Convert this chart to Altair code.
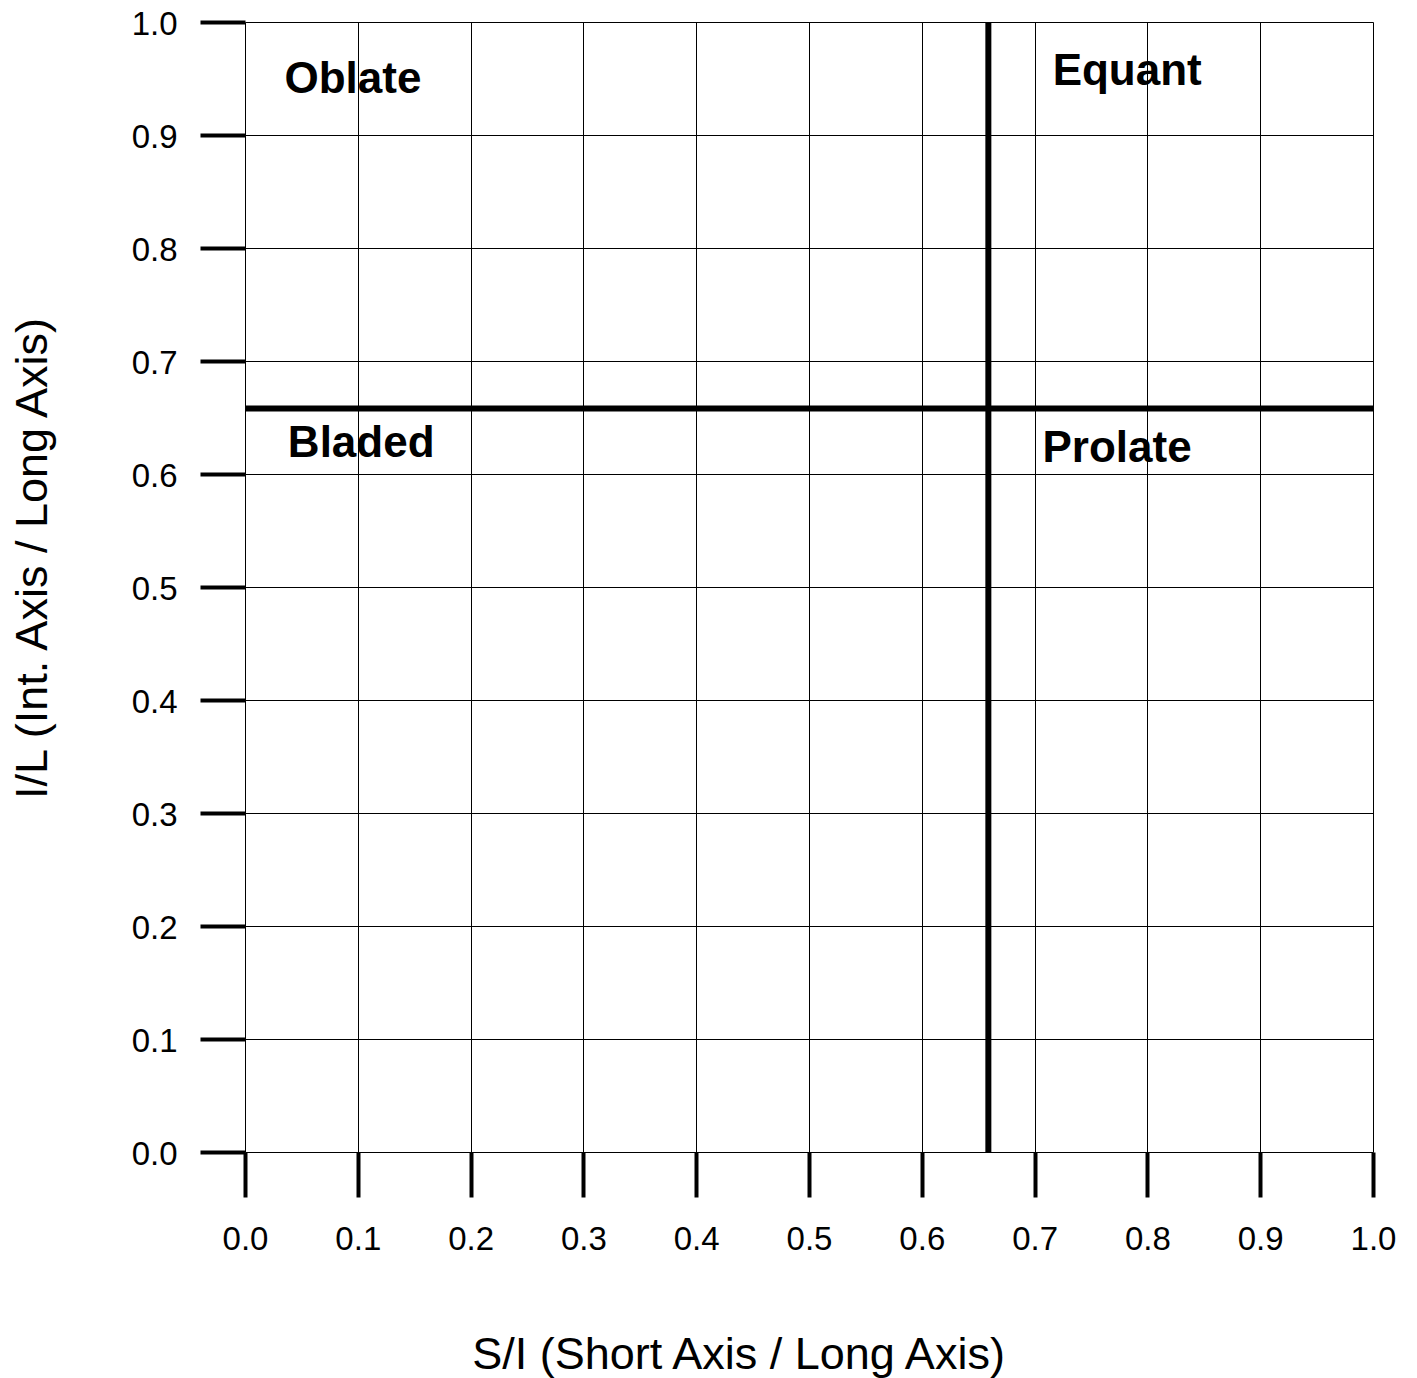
import altair as alt
import pandas as pd

# ---- data ----
tick_values = [0.0, 0.1, 0.2, 0.3, 0.4, 0.5, 0.6, 0.7, 0.8, 0.9, 1.0]
zone_names = ["Oblate", "Equant", "Bladed", "Prolate"]
zone_x = [0.035, 0.716, 0.038, 0.707]
zone_y = [0.937, 0.944, 0.615, 0.611]
boundary_si = [0.659]
boundary_il = [0.658]

FONT = "Liberation Sans"

x_scale = alt.Scale(domain=[0, 1], nice=False, zero=False)
y_scale = alt.Scale(domain=[0, 1], nice=False, zero=False)

common_axis = dict(
    values=tick_values, format=".1f", grid=True, gridColor="black", gridWidth=1,
    gridOpacity=1, tickSize=45, tickWidth=4, tickColor="black", domain=False,
    labelFont=FONT, labelFontSize=33, labelColor="black", labelFlush=False,
    labelOverlap=False, titleFont=FONT, titleFontSize=45, titleFontWeight="normal",
    titleColor="black", titleAlign="center", titleBaseline="alphabetic",
)

x_axis = alt.Axis(title="S/I (Short Axis / Long Axis)", labelPadding=26,
                  titleX=493, titleY=216, **common_axis)
y_axis = alt.Axis(title="I/L (Int. Axis / Long Axis)", labelPadding=23,
                  labelBaseline="alphabetic", labelOffset=12,
                  titleX=-199, titleY=536, titleAngle=270, **common_axis)

labels_df = pd.DataFrame({"x": zone_x, "y": zone_y, "label": zone_names})
vline_df = pd.DataFrame({"x": boundary_si})
hline_df = pd.DataFrame({"y": boundary_il})

text_layer = alt.Chart(labels_df).mark_text(
    align="left", baseline="alphabetic", fontSize=44, fontWeight="bold",
    font=FONT, color="black"
).encode(
    x=alt.X("x:Q", scale=x_scale, axis=x_axis),
    y=alt.Y("y:Q", scale=y_scale, axis=y_axis),
    text="label:N",
)

vline = alt.Chart(vline_df).mark_rule(color="black", strokeWidth=6).encode(
    x=alt.X("x:Q", scale=x_scale, axis=x_axis),
)

hline = alt.Chart(hline_df).mark_rule(color="black", strokeWidth=6).encode(
    y=alt.Y("y:Q", scale=y_scale, axis=y_axis),
)

chart = alt.layer(text_layer, vline, hline).properties(
    width=1128, height=1130,
    autosize=alt.AutoSizeParams(type="none"),
    padding={"left": 237, "top": 14, "right": 35, "bottom": 226},
).configure_view(
    stroke="black", strokeWidth=4
).configure(background="white")

chart.save("out.html", embed_options={"renderer": "svg", "actions": False})
